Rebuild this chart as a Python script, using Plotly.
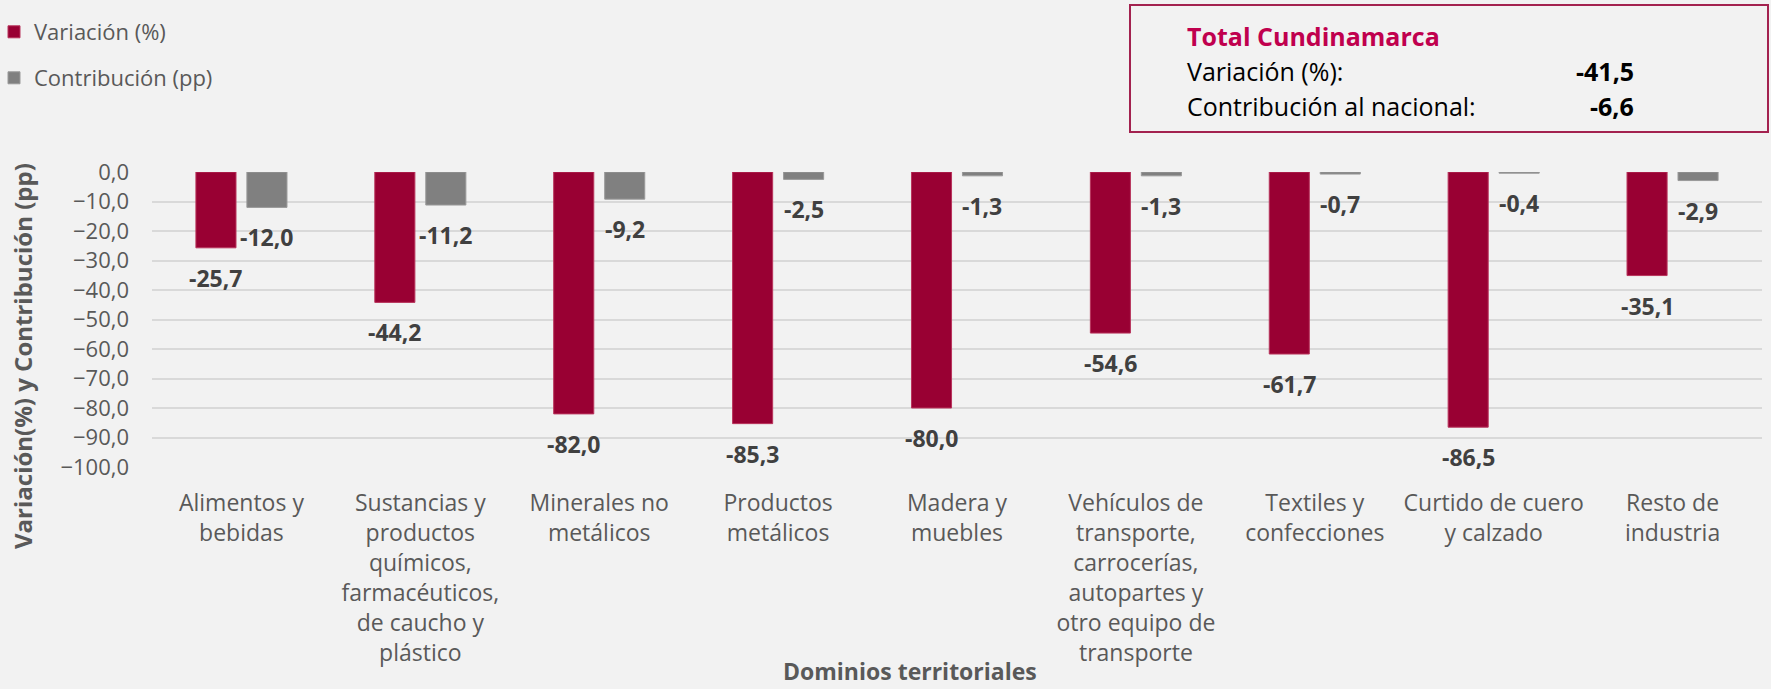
import plotly.graph_objects as go

categories = [
    "Alimentos y<br>bebidas",
    "Sustancias y<br>productos<br>químicos,<br>farmacéuticos,<br>de caucho y<br>plástico",
    "Minerales no<br>metálicos",
    "Productos<br>metálicos",
    "Madera y<br>muebles",
    "Vehículos de<br>transporte,<br>carrocerías,<br>autopartes y<br>otro equipo de<br>transporte",
    "Textiles y<br>confecciones",
    "Curtido de cuero<br>y calzado",
    "Resto de<br>industria",
]
variacion = [-25.7, -44.2, -82.0, -85.3, -80.0, -54.6, -61.7, -86.5, -35.1]
contribucion = [-12.0, -11.2, -9.2, -2.5, -1.3, -1.3, -0.7, -0.4, -2.9]
total_variacion = -41.5
total_contribucion = -6.6

W, H = 1771, 689
ML, MR, MT, MB = 152, 9, 172, 222
PW, PH = W - ML - MR, H - MT - MB
FONT = "Open Sans"
VAR_COLOR = "#990033"
CON_COLOR = "#808080"


def px_x(p):
    return (p - ML) / PW


def px_y(p):
    return (H - MB - p) / PH


def fmt(v):
    return f"{v:.1f}".replace(".", ",")


fig = go.Figure()
fig.add_trace(go.Bar(x=categories, y=variacion, name="Variación (%)",
                     marker=dict(color=VAR_COLOR, line=dict(color="#B8345C", width=1)),
                     legend="legend", showlegend=True))
fig.add_trace(go.Bar(x=categories, y=contribucion, name="Contribución (pp)",
                     marker=dict(color=CON_COLOR, line=dict(color="#9A9A9A", width=1)),
                     legend="legend2", showlegend=True))

annotations = []
off = 0.1425
for i, (v, c) in enumerate(zip(variacion, contribucion)):
    annotations.append(dict(x=i - off, y=v, xref="x", yref="y", text=f"<b>{fmt(v)}</b>",
                            showarrow=False, yshift=-30, xanchor="center", yanchor="middle",
                            font=dict(family=FONT, size=23, color="#404040")))
    annotations.append(dict(x=i + off, y=c, xref="x", yref="y", text=f"<b>{fmt(c)}</b>",
                            showarrow=False, yshift=-30, xanchor="center", yanchor="middle",
                            font=dict(family=FONT, size=23, color="#404040")))

# axis titles
annotations.append(dict(x=px_x(22), y=px_y(356), xref="paper", yref="paper",
                        text="<b>Variación(%) y Contribución (pp)</b>", textangle=-90,
                        showarrow=False, xanchor="center", yanchor="middle",
                        font=dict(family=FONT, size=24, color="#595959")))
annotations.append(dict(x=px_x(910), y=px_y(671), xref="paper", yref="paper",
                        text="<b>Dominios territoriales</b>",
                        showarrow=False, xanchor="center", yanchor="middle",
                        font=dict(family=FONT, size=23, color="#595959")))

# summary box
annotations.append(dict(x=px_x(1185), y=px_y(36), xref="paper", yref="paper",
                        text="<b>Total Cundinamarca</b>", showarrow=False,
                        xanchor="left", yanchor="middle",
                        font=dict(family=FONT, size=25, color="#C0004E")))
annotations.append(dict(x=px_x(1185), y=px_y(71), xref="paper", yref="paper",
                        text="Variación (%):", showarrow=False,
                        xanchor="left", yanchor="middle",
                        font=dict(family=FONT, size=25, color="#000000")))
annotations.append(dict(x=px_x(1185), y=px_y(106), xref="paper", yref="paper",
                        text="Contribución al nacional:", showarrow=False,
                        xanchor="left", yanchor="middle",
                        font=dict(family=FONT, size=25, color="#000000")))
annotations.append(dict(x=px_x(1636), y=px_y(71), xref="paper", yref="paper",
                        text=f"<b>{fmt(total_variacion)}</b>", showarrow=False,
                        xanchor="right", yanchor="middle",
                        font=dict(family=FONT, size=25, color="#000000")))
annotations.append(dict(x=px_x(1636), y=px_y(106), xref="paper", yref="paper",
                        text=f"<b>{fmt(total_contribucion)}</b>", showarrow=False,
                        xanchor="right", yanchor="middle",
                        font=dict(family=FONT, size=25, color="#000000")))

shapes = [dict(type="rect", xref="paper", yref="paper",
               x0=px_x(1130), x1=px_x(1768), y0=px_y(132), y1=px_y(5),
               line=dict(color="#A3224F", width=2), fillcolor="rgba(0,0,0,0)")]

legend_common = dict(orientation="v", xanchor="left", yanchor="middle",
                     bgcolor="rgba(0,0,0,0)", borderwidth=0,
                     font=dict(family=FONT, size=22, color="#595959"))

fig.update_layout(
    width=W, height=H,
    margin=dict(l=ML, r=MR, t=MT, b=MB, autoexpand=False),
    paper_bgcolor="#F2F2F2", plot_bgcolor="#F2F2F2",
    separators=",.",
    showlegend=True,
    barmode="group", bargap=0.43, bargroupgap=0.214,
    font=dict(family=FONT, size=22, color="#595959"),
    legend=dict(x=px_x(-6), y=px_y(32), **legend_common),
    legend2=dict(x=px_x(-6), y=px_y(78), **legend_common),
    annotations=annotations,
    shapes=shapes,
    xaxis=dict(type="category", showgrid=False, zeroline=False, showline=False,
               ticks="", tickangle=0, ticklabelstandoff=20,
               tickfont=dict(family=FONT, size=23, color="#595959")),
    yaxis=dict(range=[-100, 0], dtick=10, tickformat=".1f", showgrid=True,
               gridcolor="#D9D9D9", gridwidth=1.5, zeroline=False, showline=False,
               ticks="", ticklabelstandoff=22,
               tickfont=dict(family=FONT, size=22, color="#595959")),
)

fig.write_html("out.html", config={"displayModeBar": False},
               post_script="document.body.style.margin='0';document.body.style.background='#F2F2F2';")
